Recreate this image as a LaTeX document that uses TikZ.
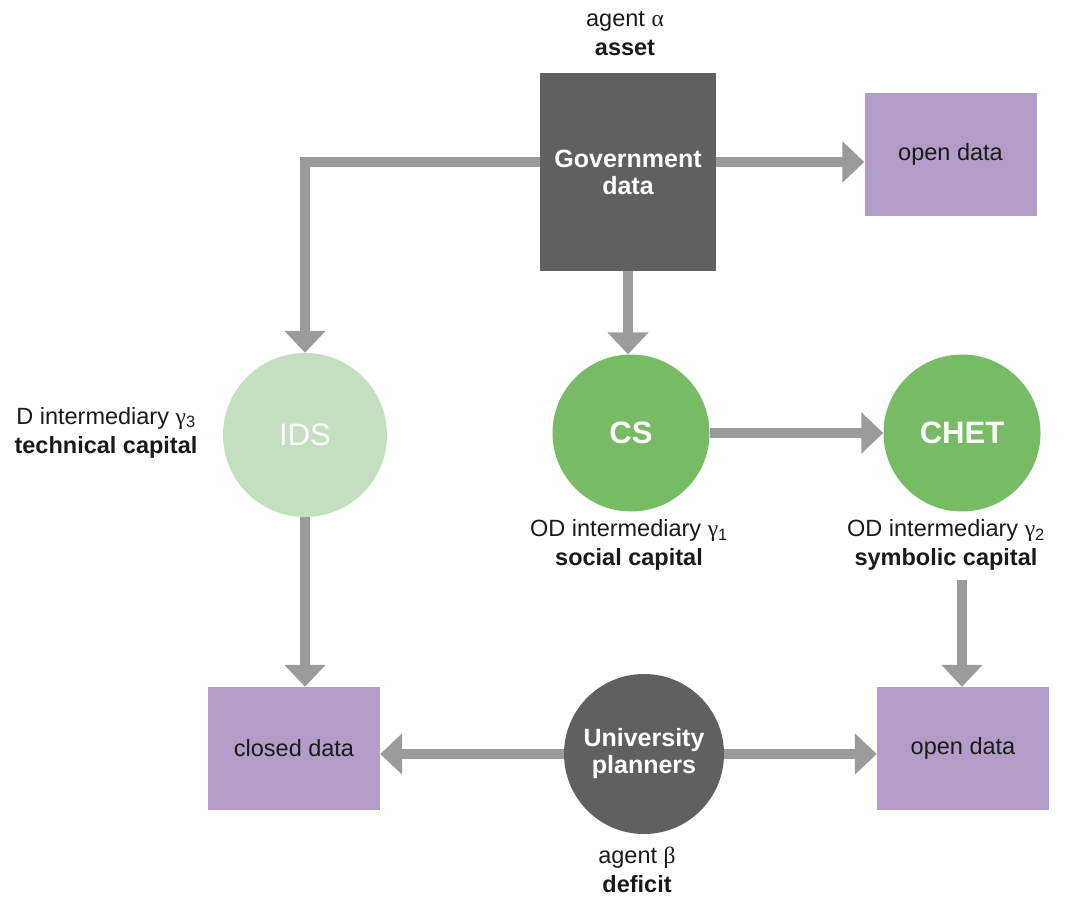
\documentclass[tikz,border=0pt]{standalone}
\usepackage{fontspec}
\setmainfont{Liberation Sans}
\newfontfamily\grk{Liberation Serif}
\usetikzlibrary{arrows.meta}

\definecolor{govgrey}{HTML}{606060}
\definecolor{linegrey}{HTML}{9B9B9B}
\definecolor{datapurple}{HTML}{B39CC7}
\definecolor{idsgreen}{HTML}{C5E0C0}
\definecolor{odgreen}{HTML}{77BC65}
\definecolor{txt}{HTML}{1A1A1A}

\begin{document}
\begin{tikzpicture}[x=10pt,y=10pt]
\tikzstyle{every node}+=[inner sep=0pt, text=txt]
\tikzstyle{lbl}=[align=center, font=\fontsize{23.5}{29}\selectfont]
\tikzstyle{databox}=[rectangle, fill=datapurple, minimum width=172pt, minimum height=123pt, font=\fontsize{23.5}{29}\selectfont]
\tikzstyle{agent}=[fill=govgrey, text=white, align=center, font=\bfseries\fontsize{25}{27}\selectfont]
\tikzstyle{inter}=[circle, fill=odgreen, minimum size=157pt, text=white, font=\bfseries\fontsize{31}{35}\selectfont]
\tikzstyle{conn}=[draw=linegrey, line width=10pt, -{Triangle[length=22pt,width=40pt]}]
\useasboundingbox (0,0) rectangle (106.5,-89.9);
% agents
\node [agent, rectangle, minimum width=176pt, minimum height=198pt] (gov) at (62.8,-17.2) {Government\\data};
\node [lbl] (alpha) at (62.5,-3.4) {agent {\grk α}\\\textbf{asset}};
\node [agent, circle, minimum size=160pt] (univ) at (64.4,-75.4) {University\\planners};
\node [lbl] (beta) at (63.7,-87.0) {agent {\grk β}\\\textbf{deficit}};
% intermediaries
\node [inter, fill=idsgreen, font=\fontsize{31}{35}\selectfont, minimum size=164pt] (ids) at (30.5,-43.5) {IDS};
\node [lbl] (g3) at (10.6,-43.25) {D intermediary {\grk γ}\textsubscript{3}\\\textbf{technical capital}};
\node [inter] (cs) at (63.1,-43.3) {CS};
\node [lbl] (g1) at (62.9,-54.5) {OD intermediary {\grk γ}\textsubscript{1}\\\textbf{social capital}};
\node [inter] (chet) at (96.2,-43.3) {CHET};
\node [lbl] (g2) at (94.6,-54.5) {OD intermediary {\grk γ}\textsubscript{2}\\\textbf{symbolic capital}};
% data
\node [databox] (opentop) at (95.05,-15.45) {open data};
\node [databox] (closed) at (29.4,-74.85) {closed data};
\node [databox] (openbot) at (96.3,-74.85) {open data};
% connectors
\coordinate (chetout) at (96.2,-58.0);
\draw [conn] ([yshift=10pt]gov.east) -- ([yshift=10pt]gov.east -| opentop.west);
\draw [conn] ([yshift=10pt]gov.west) -| (ids.north);
\draw [conn] (gov.south) -- (gov.south |- cs.north);
\draw [conn] (cs.east) -- (chet.west);
\draw [conn] (ids.south) -- (ids.south |- closed.north);
\draw [conn] (chetout) -- (chetout |- openbot.north);
\draw [conn] (univ.west) -- (univ.west -| closed.east);
\draw [conn] (univ.east) -- (univ.east -| openbot.west);
\end{tikzpicture}
\end{document}
